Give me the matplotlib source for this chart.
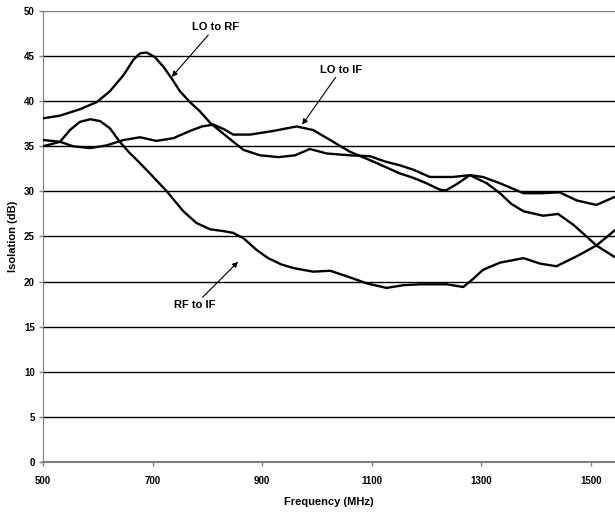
import matplotlib
matplotlib.use("Agg")
import matplotlib.pyplot as plt

# values (MHz, dB)
lo_rf_f = [500, 531, 567, 598, 622, 647, 665, 677, 689, 704, 720, 735, 750, 768, 786,
           805, 835, 866, 896, 930, 960, 987, 1018, 1060, 1097, 1125, 1151, 1176, 1206,
           1248, 1279, 1303, 1334, 1377, 1410, 1443, 1474, 1510, 1544]
lo_rf_db = [38.1, 38.4, 39.1, 39.9, 41.1, 42.9, 44.6, 45.3, 45.4, 44.9, 43.8, 42.5, 41.1,
            39.9, 38.9, 37.6, 36.1, 34.6, 34.0, 33.8, 34.0, 34.7, 34.2, 34.0, 33.9, 33.3,
            32.9, 32.4, 31.6, 31.6, 31.8, 31.6, 30.9, 29.8, 29.8, 29.9, 29.0, 28.5, 29.4]

lo_if_f = [500, 531, 555, 586, 616, 647, 677, 707, 738, 768, 790, 811, 830, 847, 878,
           920, 963, 993, 1024, 1060, 1103, 1151, 1176, 1200, 1224, 1235, 1255, 1279,
           1310, 1334, 1355, 1377, 1413, 1440, 1468, 1492, 1510, 1544]
lo_if_db = [35.7, 35.5, 35.0, 34.8, 35.1, 35.7, 36.0, 35.6, 35.9, 36.7, 37.2, 37.4, 36.9,
            36.3, 36.3, 36.7, 37.2, 36.8, 35.7, 34.4, 33.3, 32.0, 31.5, 30.9, 30.2, 30.1,
            30.8, 31.8, 30.9, 29.8, 28.6, 27.8, 27.3, 27.5, 26.3, 25.0, 24.0, 22.7]

rf_if_f = [500, 531, 549, 567, 586, 604, 622, 640, 659, 671, 695, 726, 756, 780, 805,
           829, 847, 866, 890, 911, 935, 957, 993, 1024, 1054, 1091, 1127, 1158, 1188,
           1237, 1267, 1285, 1303, 1334, 1377, 1407, 1437, 1474, 1510, 1544]
rf_if_db = [35.0, 35.5, 36.8, 37.7, 38.0, 37.8, 37.0, 35.5, 34.2, 33.5, 32.0, 30.0, 27.8,
            26.5, 25.8, 25.6, 25.4, 24.8, 23.5, 22.6, 21.9, 21.5, 21.1, 21.2, 20.6, 19.8,
            19.3, 19.6, 19.7, 19.7, 19.4, 20.3, 21.3, 22.1, 22.6, 22.0, 21.7, 22.8, 24.0,
            25.7]

x_ticks = [500, 700, 900, 1100, 1300, 1500]
y_ticks = list(range(0, 51, 5))

plt.rcParams["font.family"] = ["Liberation Sans", "DejaVu Sans"]

fig = plt.figure(figsize=(6.15, 5.12), dpi=100)
ax = fig.add_axes([0.070, 0.0977, 0.930, 0.8808])

for y in y_ticks[1:]:
    ax.axhline(y, color="black" if y < 50 else "#808080", lw=1.0, zorder=1)

for f, db in [(lo_rf_f, lo_rf_db), (lo_if_f, lo_if_db), (rf_if_f, rf_if_db)]:
    ax.plot(f, db, color="black", lw=1.7, solid_joinstyle="round",
            solid_capstyle="round", zorder=3)

ax.set_xlim(500, 1544)
ax.set_ylim(0, 50)
ax.set_xticks(x_ticks)
ax.set_yticks(y_ticks)
ax.tick_params(direction="out", length=3, width=1, color="#808080",
               labelsize=7, pad=3)
for lab in ax.get_xticklabels() + ax.get_yticklabels():
    lab.set_fontweight("bold")
ax.tick_params(axis="x", pad=7)

for side in ["top", "right"]:
    ax.spines[side].set_visible(False)
ax.spines["left"].set_color("#808080")
ax.spines["bottom"].set_color("#808080")
ax.spines["bottom"].set_linewidth(1.5)

ax.set_xlabel("Frequency (MHz)", fontsize=8, fontweight="bold", labelpad=8)
ax.set_ylabel("Isolation (dB)", fontsize=8, fontweight="bold", labelpad=4)

arrow = dict(arrowstyle="-|>", color="black", lw=0.8, mutation_scale=8,
             shrinkA=0, shrinkB=0)
ax.annotate("LO to RF", xy=(735, 42.7), xytext=(814, 48.2), fontsize=8,
            fontweight="bold", ha="center", va="center", arrowprops=arrow)
ax.annotate("LO to IF", xy=(973, 37.4), xytext=(1044, 43.5), fontsize=8,
            fontweight="bold", ha="center", va="center", arrowprops=arrow)
ax.annotate("RF to IF", xy=(856, 22.2), xytext=(777, 17.4), fontsize=8,
            fontweight="bold", ha="center", va="center", arrowprops=arrow)

fig.savefig("out.png", dpi=100)
